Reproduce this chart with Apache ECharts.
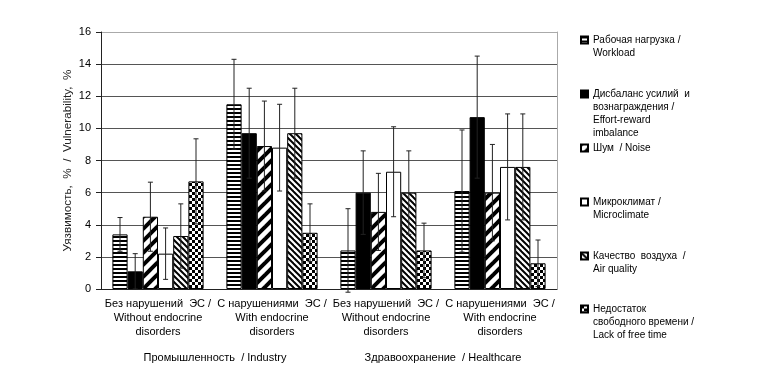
<!DOCTYPE html>
<html>
<head>
<meta charset="utf-8">
<script src="https://cdn.jsdelivr.net/npm/echarts@6/dist/echarts.min.js"></script>
<style>
  html, body { margin: 0; padding: 0; background: #fff; }
  #chart { width: 760px; height: 377px; }
</style>
</head>
<body>
<div id="chart"></div>
<script>
// категории и данные
const categories = [
  'Без нарушений  ЭС /\nWithout endocrine\ndisorders',
  'С нарушениями  ЭС /\nWith endocrine\ndisorders',
  'Без нарушений  ЭС /\nWithout endocrine\ndisorders',
  'С нарушениями  ЭС /\nWith endocrine\ndisorders'
]
const sectors = ['Промышленность  / Industry', 'Здравоохранение  / Healthcare']
const yTicks = [0, 2, 4, 6, 8, 10, 12, 14, 16]

const seriesNames = [
  'Рабочая нагрузка /\nWorkload',
  'Дисбаланс усилий  и\nвознаграждения /\nEffort-reward\nimbalance',
  'Шум  / Noise',
  'Микроклимат /\nMicroclimate',
  'Качество  воздуха  /\nAir quality',
  'Недостаток\nсвободного времени /\nLack of free time'
]
const workload = [3.4, 11.5, 2.4, 6.1]
const effortReward = [1.1, 9.7, 6.0, 10.7]
const noise = [4.5, 8.9, 4.8, 6.0]
const microclimate = [2.2, 8.8, 7.3, 7.6]
const airQuality = [3.3, 9.7, 6.0, 7.6]
const freeTime = [6.7, 3.5, 2.4, 1.6]

// погрешности (±)
const errWorkload = [1.05, 2.8, 2.6, 3.8]
const errEffortReward = [1.1, 2.8, 2.6, 3.8]
const errNoise = [2.15, 2.8, 2.4, 3.0]
const errMicroclimate = [1.6, 2.7, 2.8, 3.3]
const errAirQuality = [2.0, 2.8, 2.6, 3.3]
const errFreeTime = [2.65, 1.8, 1.7, 1.45]

const values = [workload, effortReward, noise, microclimate, airQuality, freeTime]
const errors = [errWorkload, errEffortReward, errNoise, errMicroclimate, errAirQuality, errFreeTime]

// штриховки
function pattern(kind) {
  const c = document.createElement('canvas')
  const ctx = c.getContext('2d')
  if (kind === 'hstripe') {
    c.width = 4; c.height = 4
    ctx.fillStyle = '#fff'; ctx.fillRect(0, 0, 4, 4)
    ctx.fillStyle = '#000'; ctx.fillRect(0, 0, 4, 2)
  } else if (kind === 'fwd') {
    c.width = 12; c.height = 12
    ctx.fillStyle = '#fff'; ctx.fillRect(0, 0, 12, 12)
    ctx.strokeStyle = '#000'; ctx.lineWidth = 4
    ;[[-12, 12, 12, -12], [0, 12, 12, 0], [0, 24, 24, 0]].forEach(function (l) {
      ctx.beginPath(); ctx.moveTo(l[0], l[1]); ctx.lineTo(l[2], l[3]); ctx.stroke()
    })
  } else if (kind === 'back') {
    c.width = 6; c.height = 6
    ctx.fillStyle = '#fff'; ctx.fillRect(0, 0, 6, 6)
    ctx.strokeStyle = '#000'; ctx.lineWidth = 2
    ;[[-6, 0, 6, 12], [0, 0, 6, 6], [0, -6, 12, 6]].forEach(function (l) {
      ctx.beginPath(); ctx.moveTo(l[0], l[1]); ctx.lineTo(l[2], l[3]); ctx.stroke()
    })
  } else if (kind === 'checker') {
    c.width = 6; c.height = 6
    ctx.fillStyle = '#fff'; ctx.fillRect(0, 0, 6, 6)
    ctx.fillStyle = '#000'; ctx.fillRect(0, 0, 3, 3); ctx.fillRect(3, 3, 3, 3)
  }
  return { image: c, repeat: 'repeat' }
}

const fills = [pattern('hstripe'), '#000', pattern('fwd'), '#fff', pattern('back'), pattern('checker')]

const chart = echarts.init(document.getElementById('chart'))

const font = 'Liberation Sans, Arial, sans-serif'
const GAP = 0.2

const barSeries = values.map(function (v, i) {
  return {
    name: seriesNames[i],
    type: 'bar',
    data: v,
    barGap: 0,
    barCategoryGap: GAP * 100 + '%',
    itemStyle: { color: fills[i], borderColor: '#000', borderWidth: 1 },
    emphasis: { disabled: true }
  }
})

const errData = []
errors.forEach(function (e, s) {
  e.forEach(function (d, c) {
    errData.push([c, s, values[s][c] - d, values[s][c] + d])
  })
})

const errSeries = {
  type: 'custom',
  data: errData,
  encode: { x: 0, y: [2, 3] },
  z: 10,
  clip: false,
  silent: true,
  renderItem: function (params, api) {
    const cat = api.value(0)
    const s = api.value(1)
    const band = api.size([1, 0])[0]
    const barW = band * (1 - GAP) / 6
    const x = api.coord([cat, 0])[0] - band * (1 - GAP) / 2 + (s + 0.5) * barW
    const yHi = api.coord([cat, api.value(3)])[1]
    const yLo = api.coord([cat, api.value(2)])[1]
    const st = { stroke: '#222', lineWidth: 1 }
    return {
      type: 'group',
      children: [
        { type: 'line', shape: { x1: x, y1: yHi, x2: x, y2: yLo }, style: st },
        { type: 'line', shape: { x1: x - 2.5, y1: yHi, x2: x + 2.5, y2: yHi }, style: st },
        { type: 'line', shape: { x1: x - 2.5, y1: yLo, x2: x + 2.5, y2: yLo }, style: st }
      ]
    }
  }
}

// легенда: по одной на пункт, значок по первой строке
// (пустые строки сверху, чтобы значок стоял у первой строки текста)
const LH = 13
const iconCenters = [40, 94, 148, 202, 256, 309]
const legends = seriesNames.map(function (name, i) {
  const n = name.split('\n').length
  return {
    data: [name],
    orient: 'vertical',
    left: 580,
    top: iconCenters[i] - (2 * n - 1) * LH / 2,
    padding: 0,
    itemWidth: 7,
    itemHeight: 7,
    icon: 'rect',
    selectedMode: false,
    formatter: function (nm) {
      let pre = ''
      for (let k = 1; k < n; k++) pre += ' \n'
      return pre + nm
    },
    textStyle: { fontFamily: font, fontSize: 10, color: '#000', lineHeight: LH }
  }
})

const splitColors = yTicks.map(function (t, i) { return i === yTicks.length - 1 ? '#aaa' : '#555' })

chart.setOption({
  animation: false,
  backgroundColor: '#fff',
  legend: legends,
  grid: { left: 101, right: 203, top: 32, bottom: 88 },
  xAxis: [
    {
      type: 'category',
      data: categories,
      axisLine: { lineStyle: { color: '#222', width: 1 } },
      axisTick: { length: 51, lineStyle: { color: '#333' } },
      axisLabel: {
        interval: 0, margin: 8, fontFamily: font, fontSize: 11, color: '#000', lineHeight: 14
      }
    },
    {
      type: 'category',
      data: sectors,
      position: 'bottom',
      axisLine: { show: false },
      axisTick: { length: 83, lineStyle: { color: '#333' } },
      axisLabel: {
        interval: 0, margin: 63, fontFamily: font, fontSize: 11, color: '#000'
      }
    }
  ],
  yAxis: [
    {
      type: 'value',
      min: 0,
      max: 16,
      interval: 2,
      name: 'Уязвимость,  %  /  Vulnerability,  %',
      nameLocation: 'middle',
      nameGap: 27,
      nameMoveOverlap: false,
      nameTextStyle: { fontFamily: font, fontSize: 11.7, color: '#222' },
      axisLine: { show: true, lineStyle: { color: '#222' } },
      axisTick: { show: true, length: 5, lineStyle: { color: '#222' } },
      axisLabel: { margin: 10, fontFamily: font, fontSize: 11, color: '#000' },
      splitLine: { lineStyle: { color: splitColors, width: 1 } }
    },
    {
      type: 'value',
      min: 0,
      max: 16,
      interval: 2,
      position: 'right',
      axisLine: { show: true, lineStyle: { color: '#aaa' } },
      axisTick: { show: false },
      axisLabel: { show: false },
      splitLine: { show: false }
    }
  ],
  series: barSeries.concat([errSeries])
})
</script>
</body>
</html>
